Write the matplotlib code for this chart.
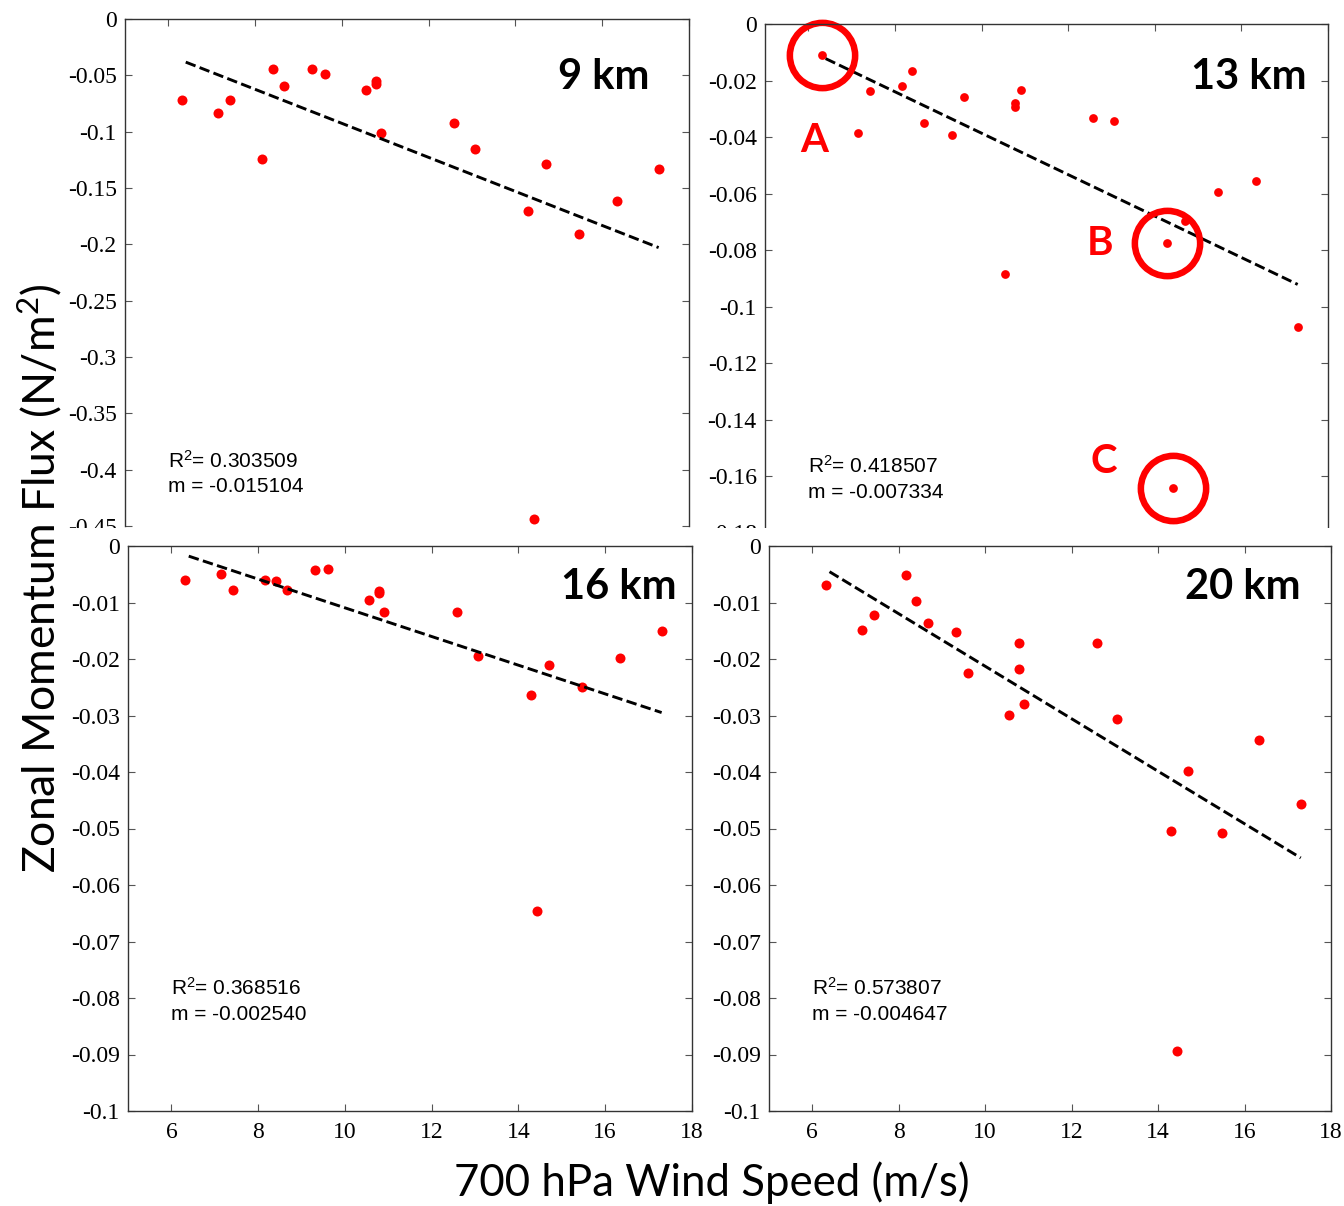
import numpy as np
import matplotlib
matplotlib.use("Agg")
import matplotlib.pyplot as plt
from matplotlib.ticker import FuncFormatter
from matplotlib.patches import Rectangle

## DATA
# 700 hPa wind speed (m/s), same cases in every panel
wind = [6.32, 7.15, 7.42, 8.16, 8.40, 8.67, 9.32, 9.60, 10.55, 10.78,
        10.78, 10.90, 12.58, 13.06, 14.29, 14.43, 14.70, 15.47, 16.33, 17.30]

# zonal momentum flux (N/m^2) at each height
flux_9km = [-0.0717, -0.0833, -0.0717, -0.1240, -0.0447, -0.0593, -0.0447, -0.0486,
            -0.0629, -0.0547, -0.0578, -0.1015, -0.0921, -0.1158, -0.1705, -0.4435,
            -0.1289, -0.1906, -0.1614, -0.1334]
flux_13km = [-0.0111, -0.0386, -0.0236, -0.0219, -0.0167, -0.0352, -0.0392, -0.0260,
             -0.0884, -0.0281, -0.0293, -0.0233, -0.0331, -0.0342, -0.0776, -0.1642,
             -0.0696, -0.0593, -0.0555, -0.1073]
flux_16km = [-0.0060, -0.0050, -0.0077, -0.0061, -0.0062, -0.0077, -0.0043, -0.0041,
             -0.0096, -0.0080, -0.0083, -0.0116, -0.0116, -0.0195, -0.0264, -0.0646,
             -0.0211, -0.0250, -0.0198, -0.0151]
flux_20km = [-0.0069, -0.0149, -0.0122, -0.0051, -0.0097, -0.0136, -0.0152, -0.0225,
             -0.0299, -0.0172, -0.0218, -0.0279, -0.0171, -0.0307, -0.0505, -0.0894,
             -0.0398, -0.0508, -0.0343, -0.0457]

titles = ["9 km", "13 km", "16 km", "20 km"]
r2_text = ["0.303509", "0.418507", "0.368516", "0.573807"]
m_text = ["-0.015104", "-0.007334", "-0.002540", "-0.004647"]
slopes = [-0.015104, -0.007334, -0.002540, -0.004647]
intercepts = [0.0584, 0.03469, 0.01446, 0.02519]
fit_range = [6.4, 17.3]

y_lows = [-0.45, -0.18, -0.1, -0.1]
y_steps = [0.05, 0.02, 0.01, 0.01]
x_ticks = [6, 8, 10, 12, 14, 16, 18]

# highlighted cases in the 13 km panel
marked = ["A", "B", "C"]
marked_idx = [0, 14, 15]


## FIGURE
W, H = 1344, 1206
plt.rcParams["font.family"] = ["Liberation Serif", "DejaVu Serif"]
plt.rcParams["mathtext.default"] = "regular"
fig = plt.figure(figsize=(W / 100, H / 100), dpi=100)


def px_axes(left, top, right, bottom):
    return fig.add_axes([left / W, 1 - bottom / H, (right - left) / W, (bottom - top) / H])


def tick_fmt(v, pos):
    s = "%g" % v
    return "0" if s == "-0" else s


# left, top, right, bottom in pixels
boxes = [(125, 19, 689, 526), (765, 24, 1328, 532.5),
         (128, 546, 692, 1111), (769, 546, 1331, 1111)]
# where the "x km" label sits: px from right spine, px below top
title_off = [(39, 58), (21, 53), (15, 41), (30, 41)]
fluxes = [flux_9km, flux_13km, flux_16km, flux_20km]

axes = []
for i in range(4):
    ax = px_axes(*boxes[i])
    top_row = i < 2
    if not top_row:
        ax.set_zorder(1)
    ax.set_xlim(5, 18)
    ax.set_ylim(y_lows[i], 0)
    nt = int(round(-y_lows[i] / y_steps[i]))
    ax.set_yticks(-np.arange(nt + 1) * y_steps[i])
    ax.set_xticks(x_ticks)
    ax.yaxis.set_major_formatter(FuncFormatter(tick_fmt))
    ax.tick_params(direction="in", length=5, width=0.8, color="#555555",
                   top=True, right=True, labelsize=17, pad=6)
    ax.tick_params(axis="x", pad=8)
    for lab in ax.get_xticklabels() + ax.get_yticklabels():
        lab.set_family("Liberation Serif")
    for sp in ax.spines.values():
        sp.set_color("#333333")
        sp.set_linewidth(1.0)
    if top_row:
        ax.tick_params(bottom=False, labelbottom=False)
        ax.spines["bottom"].set_visible(False)

    # points and fitted line
    ax.plot(wind, fluxes[i], "o", color="#ff0000", mec="none",
            ms=6.3 if i == 1 else 7.2, clip_on=False)
    fx = np.array(fit_range)
    ax.plot(fx, intercepts[i] + slopes[i] * fx, color="black", lw=2.1,
            ls=(0, (3.6, 1.5)))

    dx, dy = title_off[i]
    ax.annotate(titles[i], xy=(1, 1), xycoords="axes fraction", xytext=(-dx, -dy),
                textcoords="offset pixels", ha="right", va="center",
                fontsize=30, fontweight="bold", family="Lato")
    ax.annotate("R$^2$= " + r2_text[i], xy=(6.0, 1), xycoords=("data", "axes fraction"),
                xytext=(0, -442), textcoords="offset pixels", ha="left", va="center",
                fontsize=15, family="Liberation Sans")
    ax.annotate("m = " + m_text[i], xy=(6.0, 1), xycoords=("data", "axes fraction"),
                xytext=(0, -468), textcoords="offset pixels", ha="left", va="center",
                fontsize=15, family="Liberation Sans")
    axes.append(ax)

# circled cases A, B, C on the 13 km panel
ax = axes[1]
letter_off = [(-8, -85), (-67, 0), (-70, 26)]
for k, idx in enumerate(marked_idx):
    ax.plot(wind[idx], flux_13km[idx], "o", ms=47, mfc="none", mec="red",
            mew=4.7, clip_on=False)
    ax.annotate(marked[k], xy=(wind[idx], flux_13km[idx]), xytext=letter_off[k],
                textcoords="offset pixels", ha="center", va="center", color="red",
                fontsize=29, fontweight="bold", family="Lato")

# gap between the two rows (top panels are cut off there)
fig.patches.append(Rectangle((0, 1 - 546 / H), 1, 18 / H, transform=fig.transFigure,
                             facecolor="white", edgecolor="none", zorder=0.5))

fig.text(40 / W, 1 - 578 / H, "Zonal Momentum Flux (N/m$^2$)", rotation=90,
         ha="center", va="center", fontsize=32, family="Lato", zorder=3)
fig.text(712 / W, 1 - 1183 / H, "700 hPa Wind Speed (m/s)", ha="center",
         va="center", fontsize=31.5, family="Lato", zorder=3)

fig.savefig("out.png", dpi=100)
